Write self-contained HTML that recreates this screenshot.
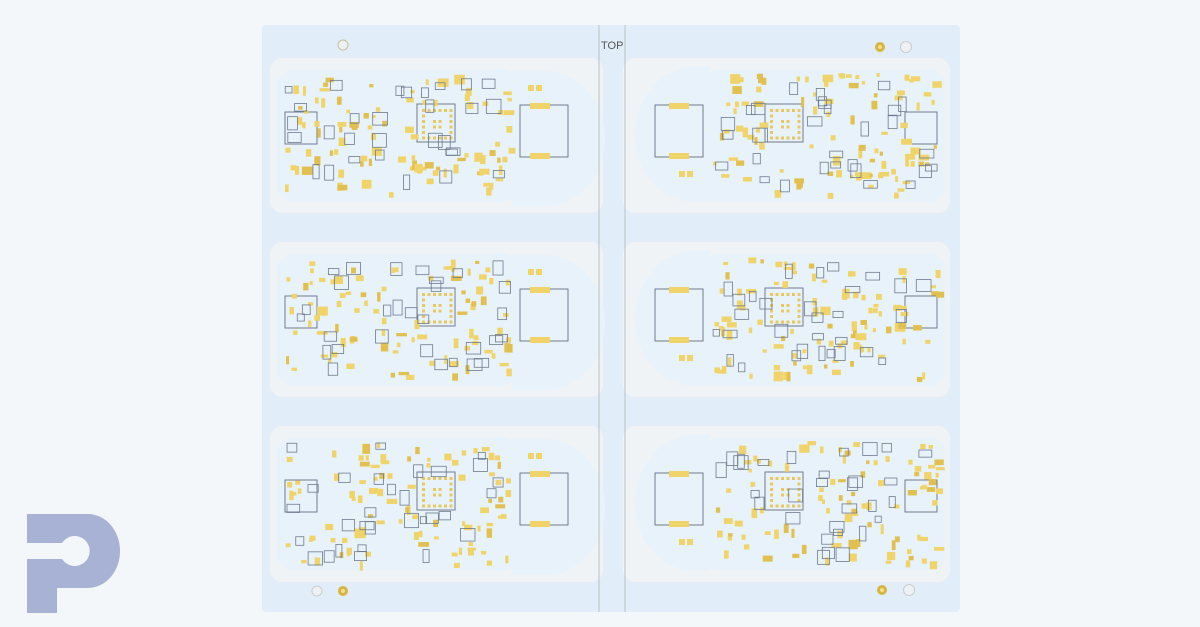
<!DOCTYPE html>
<html><head><meta charset="utf-8"><style>
html,body{margin:0;padding:0;background:#f4f7fa;}
svg{display:block;}
</style></head><body>
<svg id="s" width="1200" height="627" viewBox="0 0 1200 627" xmlns="http://www.w3.org/2000/svg">
<rect width="1200" height="627" fill="#f4f7fa"/>
<rect x="262" y="25" width="698" height="587" rx="4" fill="#e1edf8"/>
<g id="gaps"></g>
<g id="boards"></g>
<line x1="599" y1="25" x2="599" y2="612" stroke="#b9c2c4" stroke-width="1"/>
<line x1="625" y1="25" x2="625" y2="612" stroke="#b9c2c4" stroke-width="1"/>
<text x="601" y="49" font-family="Liberation Sans, sans-serif" font-size="11" fill="#555">TOP</text>
<circle cx="343" cy="45" r="5" fill="#eef1f4" stroke="#c8c0a0"/>
<circle cx="880" cy="47" r="5" fill="#d9b440"/><circle cx="880" cy="47" r="2" fill="#f0e090"/>
<circle cx="906" cy="47" r="5.5" fill="#eef1f4" stroke="#ccc"/>
<circle cx="317" cy="591" r="5" fill="#eef1f4" stroke="#ccc"/>
<circle cx="343" cy="591" r="5" fill="#d9b440"/><circle cx="343" cy="591" r="2" fill="#f0e090"/>
<circle cx="882" cy="590" r="5" fill="#d9b440"/><circle cx="882" cy="590" r="2" fill="#f0e090"/>
<circle cx="909" cy="590" r="5.5" fill="#eef1f4" stroke="#ccc"/>
<path fill="#a8b2d5" d="M27 514 H88 A32 37 0 0 1 88 588 H57 V613 H27 V559 H62 A15 15 0 1 0 62 543 H27 Z"/>
</svg>
<script>
var NS="http://www.w3.org/2000/svg";
var gaps=document.getElementById('gaps'),boards=document.getElementById('boards');
var seed=7;function r(){seed=(seed*16807)%2147483647;return seed/2147483647;}
function el(p,t,a){var e=document.createElementNS(NS,t);for(var k in a)e.setAttribute(k,a[k]);p.appendChild(e);return e;}
var rows=[[58,213],[242,397],[426,582]];
rows.forEach(function(rw){
  var y0=rw[0],y1=rw[1];
  el(gaps,'rect',{x:270,y:y0,width:333,height:y1-y0,rx:12,fill:"#f0f3f6"});
  el(gaps,'rect',{x:623,y:y0,width:327,height:y1-y0,rx:12,fill:"#f0f3f6"});
  var by0=y0+9,by1=y1-11;
  el(boards,'rect',{x:277,y:by0+2,width:240,height:by1-by0-2,rx:16,fill:"#e8f2fb"});
  el(boards,'path',{d:"M512 "+(by0+4)+" H545 A60 "+((by1-by0)/2)+" 0 0 1 545 "+(by1+4)+" H512 Z",fill:"#e8f2fb"});
  el(boards,'rect',{x:705,y:by0+2,width:240,height:by1-by0-2,rx:16,fill:"#e8f2fb"});
  el(boards,'path',{d:"M710 "+(by0)+" H695 A60 "+((by1-by0)/2)+" 0 0 0 695 "+(by1)+" H710 Z",fill:"#e8f2fb"});
  [[277,517,false],[705,945,true]].forEach(function(b){
    var x0=b[0],x1=b[1];
    var cx=b[2]?x0+60:x0+140;
    el(boards,'rect',{x:cx,y:by0+37,width:38,height:38,fill:"none",stroke:"#6f7b8e","stroke-width":1});
    for(var i=0;i<6;i++)for(var j=0;j<6;j++) if(i==0||j==0||i==5||j==5||(i>1&&i<4&&j>1&&j<4)) el(boards,'rect',{x:cx+5+i*5.5,y:by0+42+j*5.5,width:3,height:3,fill:"#e8c860"});
    var kx=b[2]?x1-40:x0+8;
    el(boards,'rect',{x:kx,y:by0+45,width:32,height:32,fill:"none",stroke:"#6f7b8e"});
    for(var n=0;n<100;n++){
      var px=x0+8+r()*(x1-x0-16),py=by0+6+r()*(by1-by0-14);
      if(px>cx-2&&px<cx+40&&py>by0+35&&py<by0+77)continue;
      var w=r()<0.7?3+r()*3:6+r()*5,h=r()<0.6?3+r()*3:5+r()*5;
      el(boards,'rect',{x:px,y:py,width:w,height:h,fill:r()<0.8?"#f0d46a":"#e2c050"});
    }
    for(var n=0;n<30;n++){
      var px=x0+8+r()*(x1-x0-25),py=by0+6+r()*(by1-by0-25);
      el(boards,'rect',{x:px,y:py,width:6+r()*9,height:6+r()*9,fill:"none",stroke:"#6f7b8e","stroke-width":0.8});
    }
  });
  var lx=520,ly=by0+38;
  el(boards,'rect',{x:lx,y:ly,width:48,height:52,fill:"none",stroke:"#6f7b8e"});
  el(boards,'rect',{x:lx+10,y:ly-2,width:20,height:6,fill:"#f0d46a"});
  el(boards,'rect',{x:lx+10,y:ly+48,width:20,height:6,fill:"#f0d46a"});
  el(boards,'rect',{x:lx+8,y:ly-20,width:6,height:6,fill:"#f0d46a"});
  el(boards,'rect',{x:lx+16,y:ly-20,width:6,height:6,fill:"#f0d46a"});
  var rx=655;
  el(boards,'rect',{x:rx,y:ly,width:48,height:52,fill:"none",stroke:"#6f7b8e"});
  el(boards,'rect',{x:rx+14,y:ly-2,width:20,height:6,fill:"#f0d46a"});
  el(boards,'rect',{x:rx+14,y:ly+48,width:20,height:6,fill:"#f0d46a"});
  el(boards,'rect',{x:rx+24,y:ly+66,width:6,height:6,fill:"#f0d46a"});
  el(boards,'rect',{x:rx+32,y:ly+66,width:6,height:6,fill:"#f0d46a"});
});
</script>
</body></html>
